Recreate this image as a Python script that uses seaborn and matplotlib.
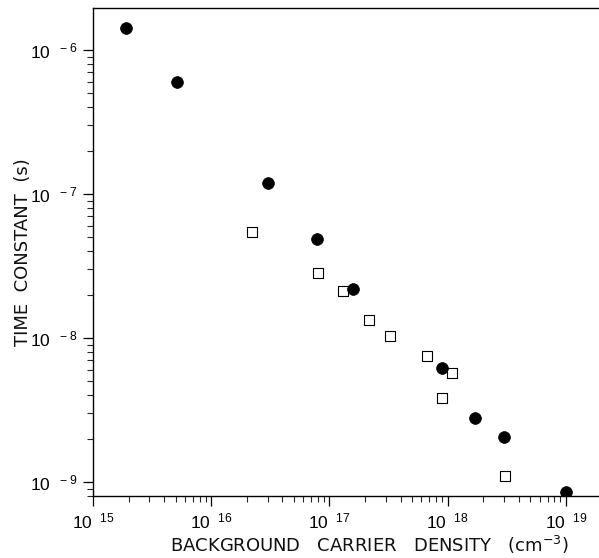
import numpy as np
import pandas as pd
import matplotlib
matplotlib.use("Agg")
import matplotlib.pyplot as plt
from matplotlib.ticker import LogLocator, FixedLocator, FixedFormatter, NullFormatter
import seaborn as sns

# Filled circles: carrier density (cm^-3) and time constant (s)
circle_density = [1.89e15, 5.1e15, 3.03e16, 7.9e16, 1.58e17, 8.9e17, 1.69e18, 3.0e18, 1.01e19]
circle_tau = [1.42e-6, 6.0e-7, 1.19e-7, 4.9e-8, 2.18e-8, 6.2e-9, 2.8e-9, 2.07e-9, 8.6e-10]

# Open squares
square_density = [2.21e16, 8.0e16, 1.30e17, 2.18e17, 3.26e17, 6.65e17, 1.09e18, 8.97e17, 3.08e18]
square_tau = [5.43e-8, 2.85e-8, 2.14e-8, 1.34e-8, 1.04e-8, 7.5e-9, 5.74e-9, 3.85e-9, 1.11e-9]

x_ticks = [1e15, 1e16, 1e17, 1e18, 1e19]
x_tick_labels = ["15", "16", "17", "18", "19"]
y_ticks = [1e-9, 1e-8, 1e-7, 1e-6]
y_tick_labels = ["-9", "-8", "-7", "-6"]

sns.set_theme(style="ticks")
plt.rcParams["font.family"] = ["Liberation Sans", "DejaVu Sans"]
plt.rcParams["mathtext.fontset"] = "custom"
plt.rcParams["mathtext.rm"] = "Liberation Sans"
plt.rcParams["mathtext.default"] = "regular"

fig = plt.figure(figsize=(5.99, 5.58), dpi=100)
ax = fig.add_axes([0.1553, 0.111, 0.8427, 0.8746])

circles = pd.DataFrame({"density": circle_density, "tau": circle_tau})
squares = pd.DataFrame({"density": square_density, "tau": square_tau})

sns.scatterplot(data=squares, x="density", y="tau", ax=ax, marker="s", s=52,
                facecolor="white", edgecolor="black", linewidth=0.8, zorder=3)
sns.scatterplot(data=circles, x="density", y="tau", ax=ax, marker="o", s=72,
                color="black", edgecolor="black", linewidth=0.5, zorder=4)

ax.set_xscale("log")
ax.set_yscale("log")
ax.set_xlim(1e15, 10 ** 19.27)
ax.set_ylim(8.0e-10, 1.96e-6)

ax.xaxis.set_major_locator(FixedLocator(x_ticks))
ax.xaxis.set_major_formatter(FixedFormatter([r"$10^{\ \ %s}$" % e for e in x_tick_labels]))
ax.xaxis.set_minor_locator(LogLocator(base=10, subs=np.arange(2, 10)))
ax.xaxis.set_minor_formatter(NullFormatter())
ax.yaxis.set_major_locator(FixedLocator(y_ticks))
ax.yaxis.set_major_formatter(FixedFormatter([r"$10^{\ \ %s}$" % e for e in y_tick_labels]))
ax.yaxis.set_minor_locator(LogLocator(base=10, subs=np.arange(2, 10)))
ax.yaxis.set_minor_formatter(NullFormatter())

ax.tick_params(axis="both", which="major", direction="out", length=7, width=0.9,
               labelsize=12.5, colors="black", pad=4)
ax.tick_params(axis="both", which="minor", direction="out", length=4.5, width=0.8)

for side in ["left", "bottom", "top"]:
    ax.spines[side].set_linewidth(1.0)
    ax.spines[side].set_color("black")
ax.spines["right"].set_visible(False)

label_font = {"family": ["DejaVu Sans"], "size": 13, "color": "#111111"}
ax.set_xlabel("BACKGROUND   CARRIER   DENSITY   (cm$^{-3}$)", fontdict=label_font)
ax.set_ylabel("TIME  CONSTANT  (s)", fontdict=label_font)
ax.xaxis.set_label_coords(0.548, -0.078)
ax.yaxis.set_label_coords(-0.12, 0.50)

fig.savefig("out.png", dpi=100)
